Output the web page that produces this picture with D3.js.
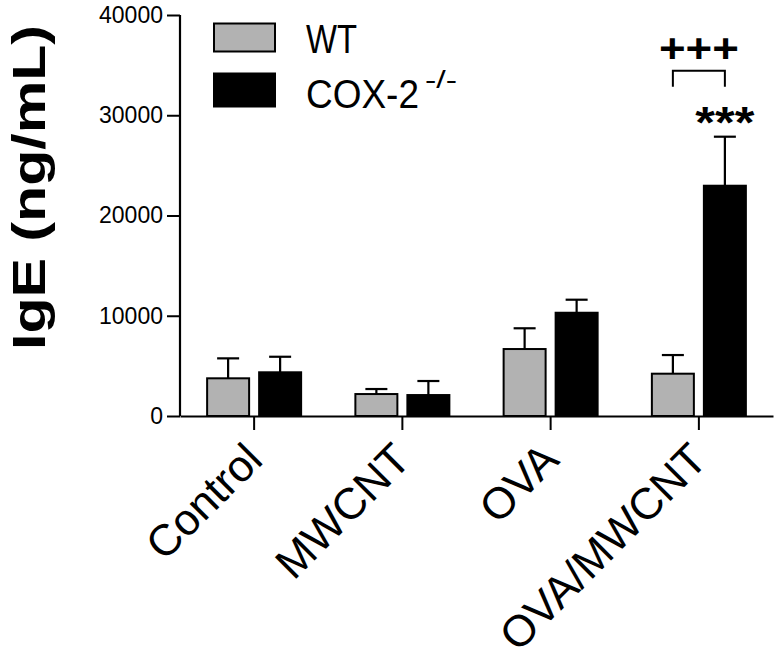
<!DOCTYPE html>
<html>
<head>
<meta charset="utf-8">
<script src="https://cdn.jsdelivr.net/npm/d3@7"></script>
<style>
  html, body { margin: 0; padding: 0; background: #fff; }
  svg { display: block; font-family: "Liberation Sans", Arial, sans-serif; }
</style>
</head>
<body>
<svg id="chart" width="776" height="648"></svg>
<script>
// ---- data ----
const categories = ["Control", "MWCNT", "OVA", "OVA/MWCNT"];
const seriesNames = ["WT", "COX-2"];
const wtMean = [3760, 2190, 6680, 4220];
const wtErr  = [1990, 500, 2070, 1860];
const koMean = [4360, 2090, 10300, 22970];
const koErr  = [1550, 1400, 1300, 4890];
const yTicks = [0, 10000, 20000, 30000, 40000];
const yLabel = "IgE (ng/mL)";
const sigCross = "+++";
const sigStar = "***";

const svg = d3.select("#chart");
const x0 = d3.scaleBand().domain(categories).range([180, 773]).padding(0);
const x1 = d3.scaleBand().domain(seriesNames)
  .range([x0.bandwidth() / 2 - 48, x0.bandwidth() / 2 + 48]).paddingInner(0.154).paddingOuter(0);
const y = d3.scaleLinear().domain([0, 40000]).range([416, 15]);
const fills = { "WT": "#b2b2b2", "COX-2": "#000000" };

const rows = [];
categories.forEach((c, i) => {
  rows.push({ cat: c, s: "WT", v: wtMean[i], e: wtErr[i] });
  rows.push({ cat: c, s: "COX-2", v: koMean[i], e: koErr[i] });
});

// error bars (drawn first, behind bars)
const eb = svg.append("g");
rows.forEach(d => {
  const cx = x0(d.cat) + x1(d.s) + x1.bandwidth() / 2;
  eb.append("line").attr("x1", cx).attr("x2", cx)
    .attr("y1", y(d.v)).attr("y2", y(d.v + d.e))
    .attr("stroke", "#000").attr("stroke-width", 2.2);
  eb.append("line").attr("x1", cx - 11).attr("x2", cx + 11)
    .attr("y1", y(d.v + d.e)).attr("y2", y(d.v + d.e))
    .attr("stroke", "#000").attr("stroke-width", 2.2);
});

// bars
svg.append("g").selectAll("rect").data(rows).join("rect")
  .attr("x", d => x0(d.cat) + x1(d.s) + 1)
  .attr("width", x1.bandwidth() - 2)
  .attr("y", d => y(d.v))
  .attr("height", d => y(0) - y(d.v))
  .attr("fill", d => fills[d.s])
  .attr("stroke", "#000").attr("stroke-width", 2);

// y axis
const yAxis = svg.append("g").attr("transform", "translate(180,0)")
  .call(d3.axisLeft(y).tickValues(yTicks).tickFormat(d3.format("d")).tickSize(13).tickPadding(4));
yAxis.select(".domain").attr("d", `M0,${y(40000)}V${y(0)}`).attr("stroke-width", 2.2);
yAxis.selectAll(".tick line").attr("stroke-width", 2);
yAxis.selectAll(".tick text").attr("font-size", 23).attr("fill", "#000")
  .attr("font-family", "'Liberation Sans', Arial, sans-serif");

// x axis
const xAxis = svg.append("g").attr("transform", `translate(0,${y(0)})`)
  .call(d3.axisBottom(x0).tickSize(14).tickSizeOuter(0));
xAxis.select(".domain").attr("stroke-width", 2.2);
xAxis.selectAll(".tick line").attr("stroke-width", 2);
xAxis.selectAll(".tick text")
  .attr("font-size", 44).attr("fill", "#000")
  .attr("font-family", "'Liberation Sans', Arial, sans-serif")
  .attr("text-anchor", "end")
  .attr("y", 0).attr("dy", 0)
  .attr("transform", "translate(10.5,46) rotate(-45)");

// y label
svg.append("text")
  .attr("transform", `translate(45,${(y(0) + y(40000)) / 2 - 28}) rotate(-90)`)
  .attr("text-anchor", "middle")
  .attr("font-size", 47).attr("font-weight", "bold")
  .attr("textLength", 325).attr("lengthAdjust", "spacingAndGlyphs")
  .text(yLabel);

// legend
const lg = svg.append("g");
lg.append("rect").attr("x", 214).attr("y", 23.5).attr("width", 61).attr("height", 28)
  .attr("fill", fills["WT"]).attr("stroke", "#000").attr("stroke-width", 2);
lg.append("rect").attr("x", 213).attr("y", 72.5).attr("width", 63).attr("height", 35)
  .attr("fill", fills["COX-2"]);
lg.append("text").attr("x", 306).attr("y", 52.5).attr("font-size", 41)
  .attr("textLength", 51).attr("lengthAdjust", "spacingAndGlyphs").text("WT");
lg.append("text").attr("x", 306).attr("y", 107.5).attr("font-size", 41)
  .attr("textLength", 113).attr("lengthAdjust", "spacingAndGlyphs").text("COX-2");
lg.append("text").attr("x", 425).attr("y", 88).attr("font-size", 23)
  .attr("textLength", 32).attr("lengthAdjust", "spacingAndGlyphs").text("-/-");

// significance
const last = categories[3];
const cWT = x0(last) + x1("WT") + x1.bandwidth() / 2;
const cKO = x0(last) + x1("COX-2") + x1.bandwidth() / 2;
const topKO = y(koMean[3] + koErr[3]);
svg.append("text").attr("x", cKO).attr("y", topKO + 1)
  .attr("text-anchor", "middle").attr("font-size", 44).attr("font-weight", "bold")
  .attr("textLength", 59).attr("lengthAdjust", "spacingAndGlyphs")
  .text(sigStar);
svg.append("path")
  .attr("d", `M${cWT},${topKO - 50}V${topKO - 66}H${cKO}V${topKO - 50}`)
  .attr("fill", "none").attr("stroke", "#000").attr("stroke-width", 2);
svg.append("text").attr("x", (cWT + cKO) / 2).attr("y", topKO - 75)
  .attr("text-anchor", "middle").attr("font-size", 41).attr("font-weight", "bold")
  .attr("textLength", 80).attr("lengthAdjust", "spacingAndGlyphs")
  .text(sigCross);
</script>
</body>
</html>
